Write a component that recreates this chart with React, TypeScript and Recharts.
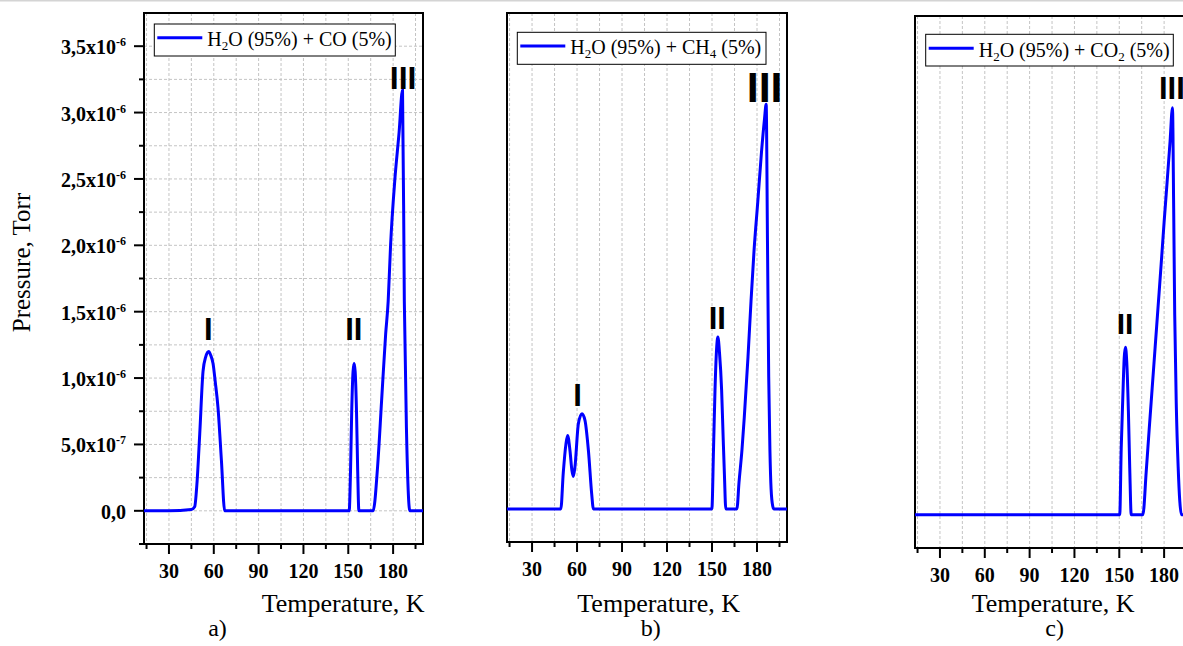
import React from "react";
import {
  LineChart,
  Line,
  XAxis,
  YAxis,
  CartesianGrid,
  ReferenceArea,
  ReferenceDot,
} from "recharts";

// temperature, K  /  pressure in units of 1e-6 Torr
const tempCO = [13.3, 30, 45, 47.2, 48.7, 50.6, 52.8, 54.6, 56.6, 58, 59.5, 61, 62.8, 65.1, 67.3, 90, 120, 150.6, 151.5, 152.3, 153.2, 153.9, 154.6, 155.5, 156.3, 157.1, 166.6, 169.6, 172.3, 175, 176.7, 178.3, 181.2, 184, 186.3, 187.5, 189, 191.2, 200];
const pressCO = [0, 0, 0.01, 0.03, 0.2, 0.58, 1.05, 1.16, 1.2, 1.17, 1.11, 0.97, 0.78, 0.38, 0, 0, 0, 0, 0.3, 0.75, 1.05, 1.11, 1.05, 0.75, 0.3, 0, 0, 0.33, 0.83, 1.33, 1.58, 2.0, 2.5, 2.85, 3.17, 1.58, 0.58, 0, 0];

const tempCH4 = [13.3, 30, 49.2, 50.8, 52.6, 53.7, 55.3, 56.6, 57.5, 58.6, 60.9, 63.3, 65.3, 67.6, 69.8, 70.9, 100, 149.9, 151, 152, 153, 153.9, 155, 156.4, 157.4, 158.3, 159.2, 166.6, 168, 170, 171.5, 174, 176, 178, 180.5, 183, 185, 186.1, 187, 187.8, 188.6, 189.4, 190.5, 191.2, 200];
const pressCH4 = [0, 0, 0, 0.27, 0.49, 0.556, 0.44, 0.29, 0.246, 0.317, 0.645, 0.72, 0.67, 0.44, 0.11, 0, 0, 0, 0.45, 0.9, 1.2, 1.3, 1.18, 0.9, 0.55, 0.25, 0, 0, 0.2, 0.45, 0.69, 1.15, 1.57, 1.95, 2.32, 2.7, 2.95, 3.06, 2.0, 1.0, 0.45, 0.15, 0.02, 0, 0];

const tempCO2 = [13.3, 60, 100, 150.3, 151.3, 152.3, 153.3, 154.1, 155, 156.1, 157, 158, 165.8, 168, 170, 172, 174, 176, 178, 180, 182, 184, 185.6, 186.4, 187.1, 188.2, 189.4, 190.5, 191.6, 200];
const pressCO2 = [0, 0, 0, 0, 0.5, 0.86, 1.18, 1.26, 1.15, 0.78, 0.35, 0, 0, 0.32, 0.64, 0.95, 1.26, 1.57, 1.88, 2.2, 2.5, 2.81, 3.06, 2.3, 1.5, 0.8, 0.36, 0.1, 0, 0];

// peak labels
const peakNamesCO = ["I", "II", "III"];
const peakTempCO = [56.4, 153.7, 186.7];
const peakPressCO = [1.284, 1.289, 3.177];
const peakNamesCH4 = ["I", "II", "III"];
const peakTempCH4 = [60.4, 153.5, 185.1];
const peakPressCH4 = [0.777, 1.358, 3.074];
const peakNamesCO2 = ["II", "III"];
const peakTempCO2 = [153.9, 185.2];
const peakPressCO2 = [1.361, 3.129];

const xTicks = [15, 30, 45, 60, 75, 90, 105, 120, 135, 150, 165, 180, 195];
const xTickValues = [30, 60, 90, 120, 150, 180];
const xTickLabels = ["30", "60", "90", "120", "150", "180"];
const yTicks = [-0.25, 0, 0.25, 0.5, 0.75, 1, 1.25, 1.5, 1.75, 2, 2.25, 2.5, 2.75, 3, 3.25, 3.5];
const yTickValues = [0, 0.5, 1, 1.5, 2, 2.5, 3, 3.5];
const yTickMantissa = ["0,0", "5,0", "1,0", "1,5", "2,0", "2,5", "3,0", "3,5"];
const yTickExponent = ["", "-7", "-6", "-6", "-6", "-6", "-6", "-6"];

const seriesNames = ["H_2O (95%) + CO (5%)", "H_2O (95%) + CH_4 (5%)", "H_2O (95%) + CO_2 (5%)"];
const panelLetters = ["a)", "b)", "c)"];
const xTitle = "Temperature, K";
const yTitle = "Pressure, Torr";

const X_DOMAIN: [number, number] = [13.3, 200];
const Y_DOMAIN: [number, number] = [-0.25, 3.75];
const SERIF = "'Liberation Serif', 'Times New Roman', serif";
const SANS = "'Liberation Sans', Arial, sans-serif";

const XTick = (props: any) => {
  const { x, y, payload } = props;
  const i = xTickValues.indexOf(payload.value);
  const major = i >= 0;
  return (
    <g>
      <line x1={x} x2={x} y1={y} y2={y + (major ? 10 : 5)} stroke="#000" strokeWidth={2} />
      {major && (
        <text x={x} y={y + 34} textAnchor="middle" fontFamily={SERIF} fontWeight="bold" fontSize={20} fill="#000">
          {xTickLabels[i]}
        </text>
      )}
    </g>
  );
};

const YTick = (props: any) => {
  const { x, y, payload } = props;
  const i = yTickValues.indexOf(payload.value);
  const major = i >= 0;
  return (
    <g>
      <line x1={x} x2={x - (major ? 10 : 5)} y1={y} y2={y} stroke="#000" strokeWidth={2} />
      {major && (
        <text x={x - 18} y={y + 8} textAnchor="end" fontFamily={SERIF} fontWeight="bold" fontSize={20} fill="#000">
          {yTickMantissa[i]}
          {yTickExponent[i] && (
            <>
              x10
              <tspan dy={-8} fontSize={12}>
                {yTickExponent[i]}
              </tspan>
            </>
          )}
        </text>
      )}
    </g>
  );
};

function subText(s: string, size: number) {
  const parts = s.split(/_(\d)/);
  return parts.map((p, i) =>
    i % 2 === 1 ? (
      <tspan key={i} fontSize={size * 0.65} dy={4}>
        {p}
      </tspan>
    ) : (
      <tspan key={i} dy={i === 0 ? 0 : -4}>
        {p}
      </tspan>
    )
  );
}

// axis bands are 1px (recharts skips drawing a 0-sized axis), margins compensate
const panels = [
  {
    temps: tempCO, press: pressCO,
    peakNames: peakNamesCO, peakTemps: peakTempCO, peakPress: peakPressCO, peakSizes: [31, 31, 32],
    left: 0, width: 440, margin: { top: 13, right: 17, bottom: 101, left: 143 }, showY: true,
    legend: { x: 154.3, y: 24, w: 241, h: 32, lineY: 37.7, textY: 45.7 },
    titleX: 261.7, titleY: 611.5, letterX: 217.5,
  },
  {
    temps: tempCH4, press: pressCH4,
    peakNames: peakNamesCH4, peakTemps: peakTempCH4, peakPress: peakPressCH4, peakSizes: [31, 31, 43],
    left: 460, width: 350, margin: { top: 13, right: 23, bottom: 103, left: 46 }, showY: false,
    legend: { x: 517.3, y: 32.3, w: 248.7, h: 32, lineY: 46, textY: 54 },
    titleX: 577.3, titleY: 612, letterX: 650.8,
  },
  {
    temps: tempCO2, press: pressCO2,
    peakNames: peakNamesCO2, peakTemps: peakTempCO2, peakPress: peakPressCO2, peakSizes: [30, 31],
    left: 880, width: 340, margin: { top: 16, right: 26, bottom: 97, left: 34 }, showY: false,
    legend: { x: 925.7, y: 34.3, w: 247.6, h: 31.7, lineY: 48.3, textY: 56.7 },
    titleX: 971.7, titleY: 611.7, letterX: 1054.7,
  },
];

function Panel({ p }: { p: (typeof panels)[number] }) {
  const data = p.temps.map((t, i) => ({ t, pr: p.press[i] }));
  return (
    <div style={{ position: "absolute", left: p.left, top: 0 }}>
      <LineChart width={p.width} height={646} data={data} margin={p.margin}>
        <CartesianGrid stroke="#c4c4c4" strokeDasharray="3 2" strokeWidth={1} />
        <XAxis
          dataKey="t"
          type="number"
          domain={X_DOMAIN}
          allowDataOverflow
          ticks={xTicks}
          interval={0}
          height={1}
          tickSize={0}
          tickMargin={0}
          axisLine={false}
          tickLine={false}
          tick={<XTick />}
        />
        <YAxis
          type="number"
          domain={Y_DOMAIN}
          allowDataOverflow
          ticks={yTicks}
          interval={0}
          width={1}
          tickSize={0}
          tickMargin={0}
          axisLine={false}
          tickLine={false}
          tick={p.showY ? <YTick /> : false}
        />
        <Line
          dataKey="pr"
          type="monotone"
          stroke="#0000ff"
          strokeWidth={3}
          dot={false}
          isAnimationActive={false}
        />
        <ReferenceArea
          x1={X_DOMAIN[0]}
          x2={X_DOMAIN[1]}
          y1={Y_DOMAIN[0]}
          y2={Y_DOMAIN[1]}
          fill="none"
          stroke="#000"
          strokeWidth={2}
          ifOverflow="visible"
        />
        {p.peakNames.map((name, i) => (
          <ReferenceDot
            key={name}
            x={p.peakTemps[i]}
            y={p.peakPress[i]}
            r={0}
            ifOverflow="visible"
            shape={(s: any) => (
              <text x={s.cx} y={s.cy} textAnchor="middle" fontFamily={SANS} fontWeight="bold" fontSize={p.peakSizes[i]} fill="#000">
                {name}
              </text>
            )}
          />
        ))}
      </LineChart>
    </div>
  );
}

export default function App() {
  return (
    <div
      style={{
        position: "absolute",
        left: 0,
        top: 0,
        width: 1183,
        height: 646,
        overflow: "hidden",
        background: "#fff",
      }}
    >
      {panels.map((p, i) => (
        <Panel key={i} p={p} />
      ))}
      <svg width={1183} height={646} style={{ position: "absolute", left: 0, top: 0, pointerEvents: "none" }}>
        <rect x={0} y={0} width={1183} height={1.5} fill="#d4d4d4" />
        <text
          x={30}
          y={262.5}
          transform="rotate(-90 30 262.5)"
          textAnchor="middle"
          fontFamily={SERIF}
          fontSize={25}
          fill="#000"
        >
          {yTitle}
        </text>
        {panels.map((p, i) => (
          <g key={i}>
            <rect x={p.legend.x} y={p.legend.y} width={p.legend.w} height={p.legend.h} fill="#fff" stroke="#000" strokeWidth={1} />
            <line x1={p.legend.x + 3} x2={p.legend.x + 48} y1={p.legend.lineY} y2={p.legend.lineY} stroke="#0000ff" strokeWidth={3} />
            <text x={p.legend.x + 53} y={p.legend.textY} fontFamily={SERIF} fontSize={20} fill="#000">
              {subText(seriesNames[i], 20)}
            </text>
            <text x={p.titleX} y={p.titleY} fontFamily={SERIF} fontSize={26} fill="#000">
              {xTitle}
            </text>
            <text x={p.letterX} y={635.5} textAnchor="middle" fontFamily={SERIF} fontSize={24} fill="#000">
              {panelLetters[i]}
            </text>
          </g>
        ))}
      </svg>
    </div>
  );
}
